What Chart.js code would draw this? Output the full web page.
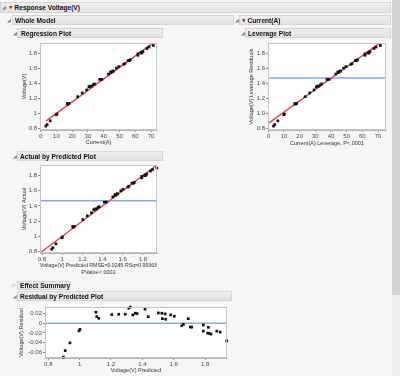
<!DOCTYPE html>
<html><head><meta charset="utf-8">
<script src="https://cdn.jsdelivr.net/npm/chart.js@4/dist/chart.umd.min.js"></script>
<style>
html,body{margin:0;padding:0;}
body{width:400px;height:376px;background:#f6f6f6;position:relative;overflow:hidden;font-family:'Liberation Sans',Arial,sans-serif;}
.hdr{position:absolute;box-sizing:border-box;background:linear-gradient(#eeeeee,#e3e3e3);border:1px solid #d5d5d5;font-weight:bold;font-size:6.6px;color:#111;white-space:nowrap;z-index:3;display:flex;align-items:center;}
.tri{position:absolute;font-size:5px;color:#808080;z-index:3;line-height:1;font-family:'DejaVu Sans',sans-serif;}
.red{display:inline-block;font-size:4.5px;color:#d42020;margin-right:2px;font-family:'DejaVu Sans',sans-serif;}
canvas{position:absolute;z-index:1;}
#sb{position:absolute;left:392px;top:0;width:8px;height:376px;background:#efefef;z-index:4;}
#thumb{position:absolute;left:392px;top:0;width:8px;height:295px;background:#d3d3d3;z-index:5;}
</style></head>
<body>
<div class="hdr" style="left:0;top:2px;width:391px;height:11px;padding-left:8px;"><span class="red">&#9660;</span>Response Voltage(V)</div>
<div class="tri" style="left:2px;top:5px;">&#9698;</div>

<div class="tri" style="left:7px;top:18px;">&#9698;</div>
<div class="hdr" style="left:12px;top:15px;width:222px;height:10px;padding-left:2px;">Whole Model</div>

<div class="tri" style="left:13px;top:31px;">&#9698;</div>
<div class="hdr" style="left:17px;top:28px;width:146px;height:10px;padding-left:3px;">Regression Plot</div>

<div class="tri" style="left:235px;top:18px;">&#9698;</div>
<div class="hdr" style="left:239px;top:15px;width:152px;height:10px;padding-left:2px;"><span class="red">&#9660;</span>Current(A)</div>

<div class="tri" style="left:241px;top:31px;">&#9698;</div>
<div class="hdr" style="left:245px;top:28px;width:146px;height:10px;padding-left:2px;">Leverage Plot</div>

<div class="tri" style="left:13px;top:154px;">&#9698;</div>
<div class="hdr" style="left:17px;top:151px;width:146px;height:10px;padding-left:2px;">Actual by Predicted Plot</div>

<div class="tri" style="left:12px;top:283px;">&#9655;</div>
<div class="hdr" style="left:17px;top:281px;width:53px;height:9px;padding-left:2px;">Effect Summary</div>

<div class="tri" style="left:13px;top:294px;">&#9698;</div>
<div class="hdr" style="left:17px;top:291px;width:215px;height:10px;padding-left:2px;">Residual by Predicted Plot</div>

<canvas id="c1" width="150" height="116" style="left:14px;top:34px;"></canvas>
<canvas id="c2" width="152" height="116" style="left:240px;top:34px;"></canvas>
<canvas id="c3" width="150" height="124" style="left:14px;top:156px;"></canvas>
<canvas id="c4" width="220" height="78" style="left:14px;top:298px;"></canvas>
<div id="sb"></div><div id="thumb"></div>

<script>
// ---- data ----
const current   = [3.3, 4.1, 6.1, 9.9, 10.3, 16.9, 17.3, 18.1, 23.5, 26.4, 29.2, 30.6, 31.3, 32.3, 33.4, 34.1, 37.4, 38.8, 43.0, 44.4, 44.7, 45.8, 46.0, 48.1, 49.6, 52.7, 53.4, 55.5, 56.3, 56.9, 61.7, 61.7, 63.8, 63.6, 64.2, 64.9, 67.4, 68.7, 71.5];
const voltage   = [0.83, 0.85, 0.90, 0.98, 0.99, 1.13, 1.12, 1.13, 1.22, 1.27, 1.31, 1.35, 1.36, 1.36, 1.38, 1.39, 1.45, 1.45, 1.52, 1.55, 1.54, 1.56, 1.56, 1.60, 1.62, 1.65, 1.66, 1.70, 1.70, 1.71, 1.79, 1.77, 1.81, 1.80, 1.80, 1.82, 1.86, 1.88, 1.90];
const predicted = [0.896, 0.908, 0.938, 0.996, 1.002, 1.104, 1.109, 1.122, 1.205, 1.249, 1.291, 1.313, 1.323, 1.339, 1.355, 1.366, 1.417, 1.438, 1.502, 1.524, 1.528, 1.545, 1.549, 1.581, 1.604, 1.651, 1.662, 1.693, 1.706, 1.715, 1.789, 1.789, 1.821, 1.817, 1.826, 1.838, 1.875, 1.896, 1.938];
const residual  = [-0.0703, -0.0568, -0.0408, -0.0156, -0.0126, 0.0232, 0.0139, 0.0105, 0.0181, 0.0189, 0.0189, 0.0316, 0.0337, 0.0175, 0.0211, 0.0202, 0.0295, 0.0139, 0.0217, 0.0211, 0.0097, 0.0196, 0.0084, 0.0175, 0.0147, -0.0051, -0.0021, 0.0097, -0.0078, -0.0078, -0.0036, -0.0162, -0.0084, -0.0204, -0.0210, -0.0225, -0.0162, -0.0183, -0.0366];
const regFitX = [3.3, 71.5];
const regFitY = [0.896, 1.938];
const levFitX = [0, 75];
const levFitY = [0.865, 1.99];
const meanVoltage = 1.47;
const diagXY = [0.78, 1.94];
const currentTicks = [0, 10, 20, 30, 40, 50, 60, 70];
const currentTickLabels = ['0', '10', '20', '30', '40', '50', '60', '70'];
const voltTicks = [0.8, 1, 1.2, 1.4, 1.6, 1.8];
const voltTickLabels = ['0.8', '1', '1.2', '1.4', '1.6', '1.8'];
const levYTickLabels = ['0.8', '1.0', '1.2', '1.4', '1.6', '1.8'];
const residTicks = [-0.06, -0.04, -0.02, 0, 0.02];
const residTickLabels = ['-0.06', '-0.04', '-0.02', '0', '0.02'];

// ---- helpers ----
const FONT = "'Liberation Sans', Arial, sans-serif";
const RED = '#e8383f', BLUE = '#8aaae8';
function axis(horizontal, min, max, ticks, labels, size, title, tpad) {
  return {
    type: 'linear', min, max, position: horizontal ? 'bottom' : 'left',
    afterBuildTicks: s => { s.ticks = ticks.map(v => ({value: v})); },
    afterFit: s => { if (horizontal) s.height = size; else s.width = size; },
    ticks: {autoSkip: false, maxRotation: 0, minRotation: 0, padding: 1, color: '#4a4a4a',
            font: {family: FONT, size: 6}, callback: (v, i) => labels[i]},
    grid: {display: true, drawOnChartArea: false, drawTicks: true, tickLength: 2, tickColor: '#8a8a8a', color: '#8a8a8a'},
    border: {display: true, color: '#b8b8b8', width: 1},
    title: {display: true, text: title, color: '#333', font: {family: FONT, size: 5.5, lineHeight: 1.4}, padding: tpad}
  };
}
const framePlugin = {
  id: 'frame',
  beforeDraw(chart) {
    const {ctx, chartArea: a} = chart;
    ctx.save(); ctx.fillStyle = '#ffffff';
    ctx.fillRect(a.left, a.top, a.right - a.left, a.bottom - a.top); ctx.restore();
  },
  afterDraw(chart) {
    const {ctx, chartArea: a} = chart;
    ctx.save(); ctx.strokeStyle = '#c4c4c4'; ctx.lineWidth = 1;
    ctx.strokeRect(Math.round(a.left) + 0.5, Math.round(a.top) + 0.5, Math.round(a.right - a.left) - 1, Math.round(a.bottom - a.top) - 1);
    ctx.restore();
  }
};
const pts = (xs, ys) => xs.map((x, i) => ({x, y: ys[i]}));
const pointDs = data => ({data, pointStyle: 'rect', pointRadius: 1.9, backgroundColor: '#111', borderWidth: 0, showLine: false, clip: false});
const lineDs = (data, color, w) => ({data, showLine: true, borderColor: color, borderWidth: w, pointRadius: 0, fill: false});
function make(id, datasets, pad, xs, ys) {
  return new Chart(document.getElementById(id), {
    type: 'scatter',
    data: {datasets},
    options: {
      responsive: false, animation: false, devicePixelRatio: 1, events: [],
      layout: {padding: pad},
      plugins: {legend: {display: false}, tooltip: {enabled: false}},
      scales: {x: xs, y: ys}
    },
    plugins: [framePlugin]
  });
}

// Regression Plot
make('c1', [
  pointDs(pts(current, voltage)),
  lineDs(pts(regFitX, regFitY), RED, 1.3)
], {top: 9, right: 7, left: 0, bottom: 0},
  axis(true, -0.4, 73.8, currentTicks, currentTickLabels, 20, 'Current(A)', {top: 0, bottom: 3.45}),
  axis(false, 0.778, 1.933, voltTicks, voltTickLabels, 26, 'Voltage(V)', {top: 6.45, bottom: 0}));

// Leverage Plot
make('c2', [
  pointDs(pts(current, voltage)),
  lineDs(pts(levFitX, levFitY), RED, 1.3),
  lineDs([{x: -0.2, y: meanVoltage}, {x: 75.1, y: meanVoltage}], BLUE, 1.5)
], {top: 9, right: 6, left: 0, bottom: 0},
  axis(true, -0.2, 75.1, currentTicks, currentTickLabels, 20, 'Current(A) Leverage, P<.0001', {top: 0, bottom: 3.15}),
  axis(false, 0.778, 1.933, voltTicks, levYTickLabels, 28, 'Voltage(V) Leverage Residuals', {top: 7.85, bottom: 0}));

// Actual by Predicted Plot
make('c3', [
  pointDs(pts(predicted, voltage)),
  lineDs(pts(diagXY, diagXY), RED, 1.3),
  lineDs([{x: 0.78, y: meanVoltage}, {x: 1.94, y: meanVoltage}], BLUE, 1.5)
], {top: 9, right: 7, left: 0, bottom: 0},
  axis(true, 0.78, 1.94, voltTicks, voltTickLabels, 27, ['Voltage(V) Predicted RMSE=0.0245 RSq=0.99363', 'PValue<.0001'], {top: 0, bottom: 3.45}),
  axis(false, 0.78, 1.94, voltTicks, voltTickLabels, 26, 'Voltage(V) Actual', {top: 6.15, bottom: 0}));

// Residual by Predicted Plot
make('c4', [
  pointDs(pts(predicted, residual)),
  lineDs([{x: 0.779, y: 0}, {x: 1.94, y: 0}], BLUE, 1.5)
], {top: 9, right: 7, left: 0, bottom: 0},
  axis(true, 0.779, 1.94, voltTicks, voltTickLabels, 18, 'Voltage(V) Predicted', {top: 0, bottom: 1.45}),
  axis(false, -0.0723, 0.034, residTicks, residTickLabels, 31, 'Voltage(V) Residual', {top: 3.85, bottom: 0}));
</script>
</body></html>
